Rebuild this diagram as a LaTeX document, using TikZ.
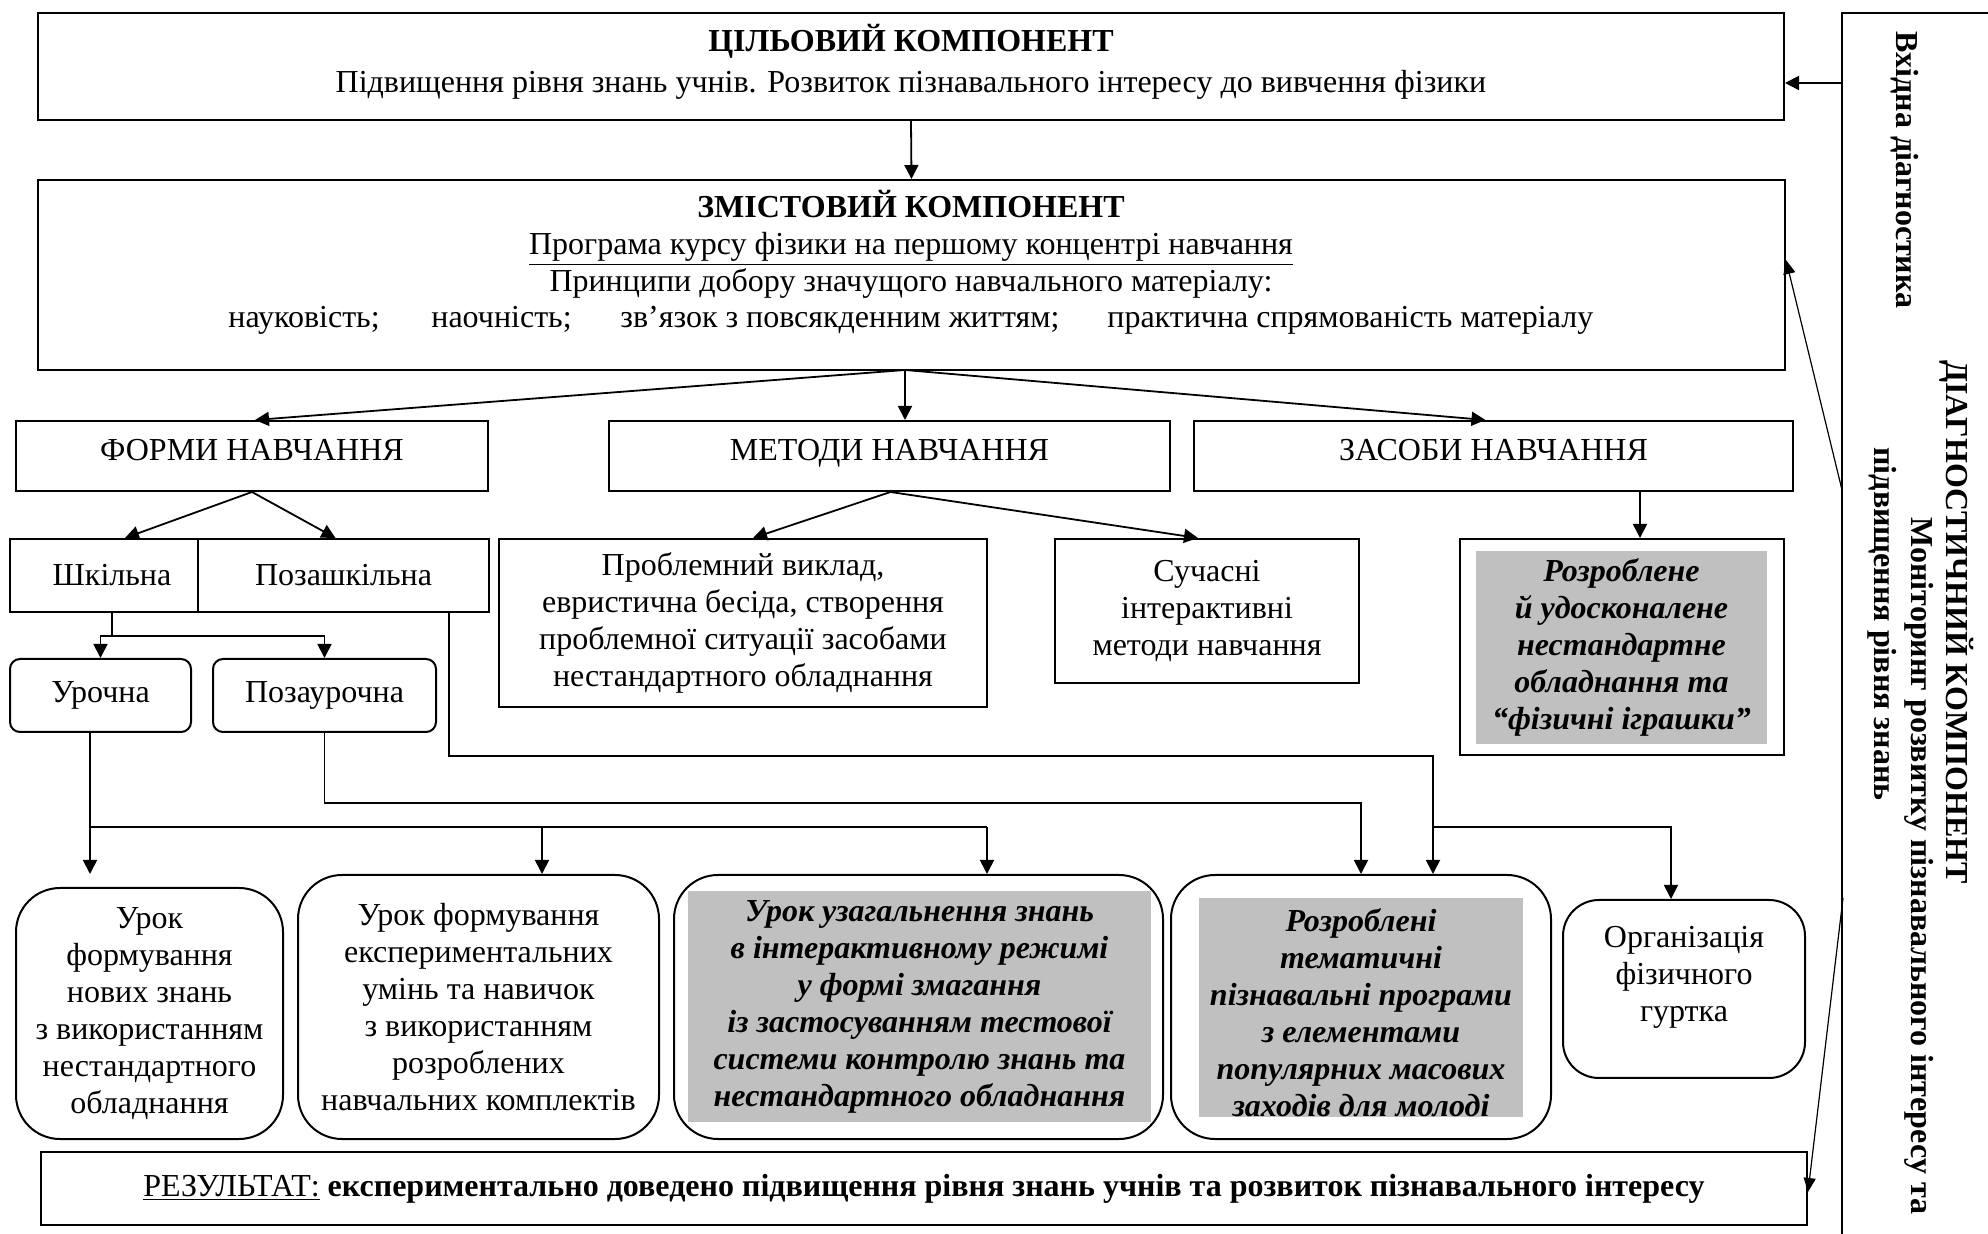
\documentclass[tikz,border=0pt]{standalone}
\usepackage{fontspec}
\setmainfont{Liberation Serif}
\usetikzlibrary{arrows.meta,calc}
\newcommand{\fsz}{\fontsize{16pt}{18.5pt}\selectfont}
\definecolor{greyC}{RGB}{192,192,192}
\begin{document}
\begin{tikzpicture}[x=0.5pt,y=-0.5pt,
  font=\fsz,
  box/.style={draw,line width=1pt,inner sep=0pt,align=center},
  greyfill/.style={fill=greyC,inner sep=0pt,align=center},
  bi/.style={font=\fsz\bfseries\itshape},
  arr/.style={-{Triangle[length=7pt,width=7pt]},line width=0.9pt},
  ln/.style={line width=0.9pt},
  thinarr/.style={-{Triangle[length=7pt,width=6pt]},line width=0.6pt},
  txt/.style={inner sep=0pt,align=center},
  side/.style={txt,rotate=-90,font=\fsz\bfseries}
]
\useasboundingbox (0,0) rectangle (1988,1234);
\fill[white] (0,0) rectangle (1988,1234);

% target component
\node[box,minimum width=873pt,minimum height=53.5pt] (tgt) at (911,66.5) {};
\node[txt,anchor=base] (tgtT) at (911,52) {\textbf{ЦІЛЬОВИЙ КОМПОНЕНТ}};
\node[txt,anchor=base] (tgtL) at (911,93) {Підвищення рівня знань учнів. Розвиток пізнавального інтересу до вивчення фізики};

% content component
\node[box,minimum width=873.5pt,minimum height=95pt] (zm) at (911.5,275) {};
\node[txt,anchor=base] (zmT) at (911,218) {\textbf{ЗМІСТОВИЙ КОМПОНЕНТ}};
\node[txt,anchor=base] (zmA) at (911,255) {\underline{Програма курсу фізики на першому концентрі навчання}};
\node[txt,anchor=base] (zmB) at (911,292) {Принципи добору значущого навчального матеріалу:};
\node[txt,anchor=base west] (zm1) at (228,328) {науковість;};
\node[txt,anchor=base west] (zm2) at (431,328) {наочність;};
\node[txt,anchor=base west] (zm3) at (620,328) {зв’язок з повсякденним життям;};
\node[txt,anchor=base west] (zm4) at (1107,328) {практична спрямованість матеріалу};

\draw[arr] (tgt.south) -- (zm.north);

% row 3
\node[box,minimum width=236pt,minimum height=35pt] (forms) at (252,456) {};
\node[box,minimum width=280.5pt,minimum height=35pt] (methods) at (889.5,456) {};
\node[box,minimum width=299.5pt,minimum height=35pt] (means) at (1493.5,456) {};
\node[txt,anchor=base] (formsT) at (252,461) {ФОРМИ НАВЧАННЯ};
\node[txt,anchor=base] (methodsT) at (889.5,461) {МЕТОДИ НАВЧАННЯ};
\node[txt,anchor=base] (meansT) at (1493.5,461) {ЗАСОБИ НАВЧАННЯ};
\coordinate (zmb) at (905,370);
\draw[arr] (zmb) -- ([xshift=1.5pt]forms.north);
\draw[arr] (zmb) -- (zmb |- methods.north);
\draw[arr] (zmb) -- ([xshift=-4pt]means.north);

% row 4
\node[box,minimum width=94pt,minimum height=36.5pt] (shk) at (104,575.5) {};
\node[txt] (shkT) at (112,575.5) {Шкільна};
\node[box,minimum width=145.5pt,minimum height=36.5pt] (pzshk) at (343.5,575.5) {Позашкільна};
\draw[arr] (forms.south) -- ([xshift=10.5pt]shk.north);
\draw[arr] (forms.south) -- ([xshift=-4pt]pzshk.north);

\node[box,minimum width=244pt,minimum height=84pt] (prob) at (743,623) {Проблемний виклад,\\евристична бесіда, створення\\проблемної ситуації засобами\\нестандартного обладнання};
\node[box,minimum width=152pt,minimum height=72pt] (such) at (1207,611) {Сучасні\\інтерактивні\\методи навчання};
\draw[arr] ([xshift=0.5pt]methods.south) -- ([xshift=5pt]prob.north);
\draw[arr] ([xshift=0.5pt]methods.south) -- ([xshift=-4.5pt]such.north);

\node[box,minimum width=162pt,minimum height=108pt] (rozr) at (1622,647) {};
\node[greyfill,bi,minimum width=145.5pt,minimum height=96.5pt] (rozrG) at (1621.5,647.5) {Розроблене\\й удосконалене\\нестандартне\\обладнання та\\“фізичні іграшки”};
\draw[arr] ([xshift=9pt]rozr.north |- means.south) -- ([xshift=9pt]rozr.north);

% row 5
\node[box,rounded corners=5pt,minimum width=90.5pt,minimum height=36.5pt] (ur) at (100.5,695.5) {Урочна};
\node[box,rounded corners=5pt,minimum width=111.5pt,minimum height=36.5pt] (pzur) at (324.5,695.5) {Позаурочна};
\coordinate (j1) at (112,636);
\draw[ln] ([xshift=4pt]shk.south) -- (j1);
\draw[arr] (j1) -| (ur.north);
\draw[arr] (j1) -| (pzur.north);

% bottom row
\node[box,rounded corners=22pt,minimum width=133.5pt,minimum height=125.5pt] (b1) at (149.5,1013.5) {Урок\\формування\\нових знань\\з використанням\\нестандартного\\обладнання};
\node[box,rounded corners=22pt,minimum width=180.5pt,minimum height=132pt] (b2) at (478.5,1007) {Урок формування\\експериментальних\\умінь та навичок\\з використанням\\розроблених\\навчальних комплектів};
\node[box,rounded corners=22pt,minimum width=244.5pt,minimum height=132pt] (b3) at (918.5,1007) {};
\node[greyfill,bi,minimum width=231.5pt,minimum height=115.5pt] (b3G) at (919.5,1006.5) {Урок узагальнення знань\\в інтерактивному режимі\\у формі змагання\\із застосуванням тестової\\системи контролю знань та\\нестандартного обладнання};
\node[box,rounded corners=22pt,minimum width=190pt,minimum height=132pt] (b4) at (1361,1007) {};
\node[greyfill,minimum width=162pt,minimum height=109.5pt] (b4G) at (1361,1007.5) {};
\node[txt,bi] (b4T) at (1361,1013) {Розроблені\\тематичні\\пізнавальні програми\\з елементами\\популярних масових\\заходів для молоді};
\node[box,rounded corners=18pt,minimum width=121pt,minimum height=89pt] (b5) at (1684,989) {};
\node[txt] (b5T) at (1684,977) {Організація\\фізичного\\гуртка};

% connectors to bottom row
\coordinate (j2) at (90,827);
\coordinate (j4) at (542,827);
\coordinate (j3) at (987,827);
\draw[arr] ([xshift=-5.25pt]ur.south) -- ([xshift=-5.25pt]ur.south |- b2.north);
\draw[ln] (j2) -- (j3);
\draw[arr] (j4) -- (j4 |- b2.north);
\draw[arr] (j3) -- (j3 |- b3.north);
\coordinate (m0) at (1361,803);
\draw[arr] (pzur.south) |- (m0) -- (b4.north);
\coordinate (m1) at (1433,756);
\coordinate (m2) at (1433,827);
\draw[arr] ([xshift=52.75pt]pzshk.south) |- (m1) -- (m1 |- b4.north);
\draw[arr] (m2) -| ([xshift=-6.5pt]b5.north);

% result
\node[box,minimum width=883pt,minimum height=36.5pt] (res) at (924,1188.5) {\underline{РЕЗУЛЬТАТ:} \textbf{експериментально доведено підвищення рівня знань учнів та розвиток пізнавального інтересу}};

% diagnostic frame
\draw[ln] (1842,1240) -- (1842,13) -- (1995,13);
\coordinate (d1) at (1842,83);
\coordinate (d2) at (1842,490);
\coordinate (d3) at (1843,898);
\draw[arr] (d1) -- (d1 -| tgt.east);
\draw[thinarr] (d2) -- ([yshift=7.5pt]zm.east);
\draw[thinarr] (d3) -- ([yshift=-1.75pt]res.east);
\node[side] (vd) at (1905,170) {Вхідна діагностика};
\node[side] (dk) at (1957,622) {ДІАГНОСТИЧНИЙ КОМПОНЕНТ};
\node[side] (mon) at (1919,866) {Моніторинг розвитку пізнавального інтересу та};
\node[side] (pidv) at (1882,624) {підвищення рівня знань};
\end{tikzpicture}
\end{document}
